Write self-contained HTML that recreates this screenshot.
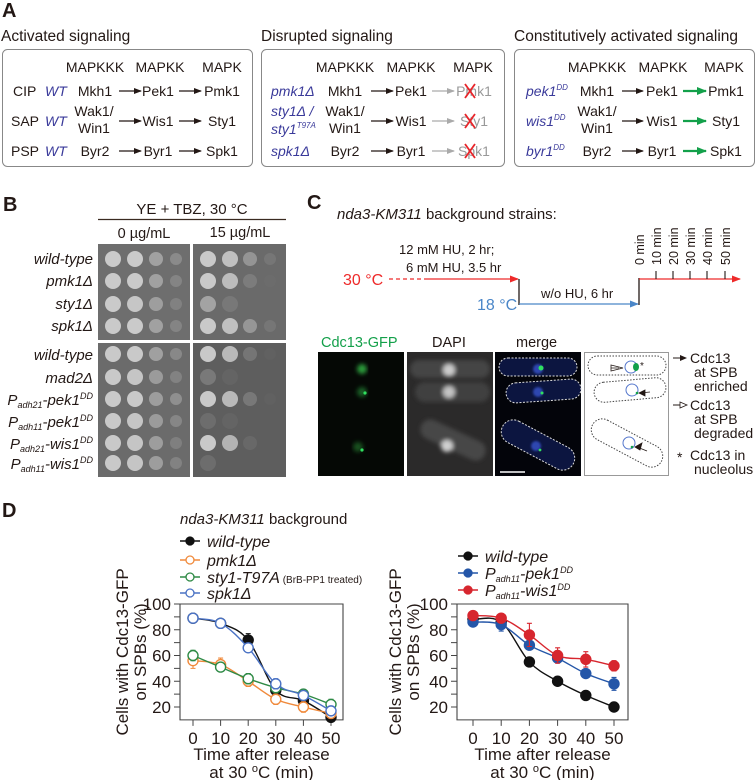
<!DOCTYPE html>
<html><head><meta charset="utf-8"><style>
html,body{margin:0;padding:0;background:#fff;}
svg{display:block;font-family:"Liberation Sans",Arial,sans-serif;}
.i{font-style:italic}
</style></head><body>
<svg id="fig" width="756" height="780" viewBox="0 0 756 780" xmlns="http://www.w3.org/2000/svg">
<defs>
<marker id="ab" markerWidth="8" markerHeight="6" refX="7" refY="3" orient="auto" markerUnits="userSpaceOnUse"><path d="M0,0 L8,3 L0,6 Z" fill="#231815"/></marker>
<marker id="ag" markerWidth="8" markerHeight="6" refX="7" refY="3" orient="auto" markerUnits="userSpaceOnUse"><path d="M0,0 L8,3 L0,6 Z" fill="#aaa"/></marker>
<marker id="agr" markerWidth="10" markerHeight="8" refX="9" refY="4" orient="auto" markerUnits="userSpaceOnUse"><path d="M0,0 L10,4 L0,8 Z" fill="#13a04a"/></marker>
<marker id="ar" markerWidth="9" markerHeight="7" refX="8" refY="3.5" orient="auto" markerUnits="userSpaceOnUse"><path d="M0,0 L9,3.5 L0,7 Z" fill="#ee2a2a"/></marker>
<marker id="abl" markerWidth="9" markerHeight="7" refX="8" refY="3.5" orient="auto" markerUnits="userSpaceOnUse"><path d="M0,0 L9,3.5 L0,7 Z" fill="#4a86c8"/></marker>
<filter id="blur"><feGaussianBlur stdDeviation="2"/></filter>
<filter id="blur1"><feGaussianBlur stdDeviation="1"/></filter>
</defs>

<!-- Panel A -->
<g font-size="14" fill="#231815">
<text x="2" y="17" font-size="20" font-weight="bold">A</text>
<text x="1" y="41" font-size="15.5">Activated signaling</text>
<text x="261" y="41" font-size="15.5">Disrupted signaling</text>
<text x="514" y="41" font-size="15.5">Constitutively activated signaling</text>
<rect x="2.5" y="49.5" width="250" height="117" rx="5" fill="none" stroke="#888"/>
<rect x="261.5" y="49.5" width="243" height="117" rx="5" fill="none" stroke="#888"/>
<rect x="514.5" y="49.5" width="240" height="117" rx="5" fill="none" stroke="#888"/>
<g text-anchor="middle">
<text x="95" y="72">MAPKKK</text><text x="160" y="72">MAPKK</text><text x="222" y="72">MAPK</text>
<text x="345" y="72">MAPKKK</text><text x="411" y="72">MAPKK</text><text x="473" y="72">MAPK</text>
<text x="597" y="72">MAPKKK</text><text x="663" y="72">MAPKK</text><text x="724" y="72">MAPK</text>
</g>
<!-- box1 -->
<g>
<text x="13" y="96">CIP</text><text x="45" y="96" class="i" fill="#3a3a9a">WT</text>
<text x="11" y="126">SAP</text><text x="45" y="126" class="i" fill="#3a3a9a">WT</text>
<text x="11" y="156">PSP</text><text x="45" y="156" class="i" fill="#3a3a9a">WT</text>
<g text-anchor="middle">
<text x="95" y="96">Mkh1</text><text x="158" y="96">Pek1</text><text x="222" y="96">Pmk1</text>
<text x="94" y="116">Wak1/</text><text x="94" y="133">Win1</text><text x="158" y="126">Wis1</text><text x="222" y="126">Sty1</text>
<text x="95" y="156">Byr2</text><text x="158" y="156">Byr1</text><text x="222" y="156">Spk1</text>
</g>
<g stroke="#231815" stroke-width="1.3" marker-end="url(#ab)">
<line x1="119" y1="91" x2="141" y2="91"/><line x1="179" y1="91" x2="201" y2="91"/>
<line x1="119" y1="121" x2="141" y2="121"/><line x1="179" y1="121" x2="201" y2="121"/>
<line x1="119" y1="151" x2="141" y2="151"/><line x1="179" y1="151" x2="201" y2="151"/>
</g></g>
<!-- box2 -->
<g>
<g class="i" fill="#3a3a9a"><text x="271" y="96">pmk1Δ</text><text x="271" y="116">sty1Δ /</text><text x="271" y="134">sty1<tspan font-size="8" dy="-6">T97A</tspan></text><text x="271" y="156">spk1Δ</text></g>
<g text-anchor="middle">
<text x="345" y="96">Mkh1</text><text x="411" y="96">Pek1</text><text x="474" y="96" fill="#999">Pmk1</text>
<text x="345" y="116">Wak1/</text><text x="345" y="133">Win1</text><text x="411" y="126">Wis1</text><text x="474" y="126" fill="#999">Sty1</text>
<text x="345" y="156">Byr2</text><text x="411" y="156">Byr1</text><text x="474" y="156" fill="#999">Spk1</text>
</g>
<g stroke="#231815" stroke-width="1.3" marker-end="url(#ab)">
<line x1="371" y1="91" x2="393" y2="91"/><line x1="371" y1="121" x2="393" y2="121"/><line x1="371" y1="151" x2="393" y2="151"/></g>
<g stroke="#aaa" stroke-width="1.3" marker-end="url(#ag)">
<line x1="432" y1="91" x2="454" y2="91"/><line x1="432" y1="121" x2="454" y2="121"/><line x1="432" y1="151" x2="454" y2="151"/></g>
<g stroke="#e8252a" stroke-width="1.8">
<path d="M465,84 L475,98 M475,84 L465,98"/><path d="M465,114 L475,128 M475,114 L465,128"/><path d="M465,144 L475,158 M475,144 L465,158"/></g>
</g>
<!-- box3 -->
<g>
<g class="i" fill="#3a3a9a"><text x="526" y="96">pek1<tspan font-size="8" dy="-6">DD</tspan></text><text x="526" y="126">wis1<tspan font-size="8" dy="-6">DD</tspan></text><text x="526" y="156">byr1<tspan font-size="8" dy="-6">DD</tspan></text></g>
<g text-anchor="middle">
<text x="597" y="96">Mkh1</text><text x="662" y="96">Pek1</text><text x="726" y="96">Pmk1</text>
<text x="597" y="116">Wak1/</text><text x="597" y="133">Win1</text><text x="662" y="126">Wis1</text><text x="726" y="126">Sty1</text>
<text x="597" y="156">Byr2</text><text x="662" y="156">Byr1</text><text x="726" y="156">Spk1</text>
</g>
<g stroke="#231815" stroke-width="1.3" marker-end="url(#ab)">
<line x1="622" y1="91" x2="643" y2="91"/><line x1="622" y1="121" x2="643" y2="121"/><line x1="622" y1="151" x2="643" y2="151"/></g>
<g stroke="#13a04a" stroke-width="2.2" marker-end="url(#agr)">
<line x1="683" y1="91" x2="706" y2="91"/><line x1="683" y1="121" x2="706" y2="121"/><line x1="683" y1="151" x2="706" y2="151"/></g>
</g>
</g>

<!-- Panel B -->
<g fill="#231815">
<text x="3" y="211" font-size="20" font-weight="bold">B</text>
<text x="192" y="214" font-size="15" text-anchor="middle">YE + TBZ, 30 °C</text>
<line x1="98" y1="219.5" x2="286" y2="219.5" stroke="#3a2a20" stroke-width="1.2"/>
<text x="144" y="238" font-size="14.5" text-anchor="middle">0 µg/mL</text>
<text x="240" y="237" font-size="14.5" text-anchor="middle">15 µg/mL</text>
<g font-size="15" class="i" text-anchor="end">
<text x="93" y="264">wild-type</text><text x="93" y="286">pmk1Δ</text><text x="93" y="309">sty1Δ</text><text x="93" y="331">spk1Δ</text>
<text x="93" y="360">wild-type</text><text x="93" y="383">mad2Δ</text>
<text x="93" y="405">P<tspan font-size="9" dy="3">adh21</tspan><tspan dy="-3">-pek1</tspan><tspan font-size="9" dy="-6">DD</tspan></text>
<text x="93" y="427">P<tspan font-size="9" dy="3">adh11</tspan><tspan dy="-3">-pek1</tspan><tspan font-size="9" dy="-6">DD</tspan></text>
<text x="93" y="449">P<tspan font-size="9" dy="3">adh21</tspan><tspan dy="-3">-wis1</tspan><tspan font-size="9" dy="-6">DD</tspan></text>
<text x="93" y="469">P<tspan font-size="9" dy="3">adh11</tspan><tspan dy="-3">-wis1</tspan><tspan font-size="9" dy="-6">DD</tspan></text>
</g>
<rect x="98" y="244" width="92" height="96" fill="#6e6e6e"/>
<rect x="193" y="244" width="93" height="96" fill="#6a6a6a"/>
<rect x="98" y="343" width="92" height="134" fill="#6b6b6b"/>
<rect x="193" y="343" width="93" height="134" fill="#5e5e5e"/>
<g id="spots"></g>
</g>

<!-- Panel C -->
<g fill="#231815">
<text x="307" y="209" font-size="20" font-weight="bold">C</text>
<text x="337" y="219" font-size="15"><tspan class="i">nda3-KM311</tspan> background strains:</text>
<text x="399" y="254" font-size="13">12 mM HU, 2 hr;</text>
<text x="406" y="272" font-size="13">6 mM HU, 3.5 hr</text>
<text x="343" y="285" font-size="16" fill="#ee2a2a">30 °C</text>
<line x1="389" y1="279" x2="427" y2="279" stroke="#ee2a2a" stroke-width="1.3" stroke-dasharray="4,3"/>
<line x1="427" y1="279" x2="518" y2="279" stroke="#ee2a2a" stroke-width="1.3" marker-end="url(#ar)"/>
<line x1="519" y1="279" x2="519" y2="305" stroke="#231815" stroke-width="1.3"/>
<text x="477" y="310" font-size="16" fill="#4a86c8">18 °C</text>
<line x1="519" y1="304" x2="638" y2="304" stroke="#4a86c8" stroke-width="1.3" marker-end="url(#abl)"/>
<text x="541" y="298" font-size="13">w/o HU, 6 hr</text>
<line x1="639" y1="305" x2="639" y2="278" stroke="#231815" stroke-width="1.3"/>
<line x1="639" y1="279" x2="740" y2="279" stroke="#ee2a2a" stroke-width="1.3" marker-end="url(#ar)"/>
<g stroke="#231815" stroke-width="1.1"><line x1="656" y1="279" x2="656" y2="271"/><line x1="673" y1="279" x2="673" y2="271"/><line x1="690" y1="279" x2="690" y2="271"/><line x1="707" y1="279" x2="707" y2="271"/><line x1="725" y1="279" x2="725" y2="271"/></g>
<g font-size="12.5">
<text transform="translate(644,265) rotate(-90)">0 min</text><text transform="translate(661,265) rotate(-90)">10 min</text><text transform="translate(678,265) rotate(-90)">20 min</text><text transform="translate(695,265) rotate(-90)">30 min</text><text transform="translate(712,265) rotate(-90)">40 min</text><text transform="translate(730,265) rotate(-90)">50 min</text>
</g>
<text x="321" y="347" font-size="14.5" fill="#13a04a">Cdc13-GFP</text>
<text x="432" y="347" font-size="14.5">DAPI</text>
<text x="516" y="347" font-size="14.5">merge</text>
<rect x="318" y="352" width="86" height="124" fill="#050805"/>
<g filter="url(#blur)" fill="#2a9a3a"><circle cx="362" cy="369" r="5"/><circle cx="362" cy="392" r="5" opacity=".6"/><circle cx="358" cy="447" r="5" opacity=".5"/></g>
<g fill="#30e060"><circle cx="365" cy="393" r="1.6"/><circle cx="362" cy="450" r="1.6"/></g>
<rect x="407" y="352" width="86" height="124" fill="#2b2a2a"/>
<g filter="url(#blur)"><rect x="410" y="360" width="80" height="18" rx="9" fill="#444"/><rect x="415" y="382" width="75" height="20" rx="10" fill="#414141"/><rect x="418" y="430" width="70" height="20" rx="10" fill="#464646" transform="rotate(25 453 440)"/>
<circle cx="449" cy="370" r="6" fill="#ccc"/><circle cx="449" cy="392" r="6" fill="#c4c4c4"/><circle cx="447" cy="446" r="6" fill="#d0d0d0"/></g>
<rect x="495" y="352" width="86" height="124" fill="#03040a"/>
<g fill="#0c1540" stroke="#ddd" stroke-width="1" stroke-dasharray="2,1.5">
<rect x="499" y="358" width="78" height="18" rx="9"/><rect x="506" y="381" width="75" height="20" rx="10" transform="rotate(-4 543 391)"/><rect x="498" y="433" width="80" height="24" rx="12" transform="rotate(28 538 445)"/></g>
<g filter="url(#blur1)" fill="#2d46b0"><circle cx="538" cy="369" r="5"/><circle cx="538" cy="392" r="5"/><circle cx="536" cy="446" r="5"/></g>
<g fill="#30e060"><circle cx="541" cy="368" r="2.5"/><circle cx="542" cy="393" r="1.5"/><circle cx="540" cy="450" r="1.4"/></g>
<line x1="500" y1="472" x2="525" y2="472" stroke="#fff" stroke-width="1.5"/>
<rect x="584.5" y="352.5" width="84" height="123" fill="#fff" stroke="#999"/>
<g fill="none" stroke="#444" stroke-dasharray="1.5,1.5" stroke-width="1">
<rect x="588" y="356" width="78" height="19" rx="9.5"/><rect x="594" y="380" width="72" height="20" rx="10" transform="rotate(-5 630 390)"/><rect x="588" y="432" width="78" height="22" rx="11" transform="rotate(28 627 443)"/></g>
<g fill="none" stroke="#5577cc" stroke-width="1"><circle cx="631" cy="367" r="6"/><circle cx="632" cy="390" r="6"/><circle cx="629" cy="443" r="6"/></g>
<g fill="#13a04a"><ellipse cx="636" cy="367" rx="3" ry="4"/><circle cx="637" cy="393" r="1.3"/><circle cx="632" cy="447" r="1.3"/></g>
<text x="640" y="369" font-size="10">*</text>
<path d="M619,368 L611,368 M611,365 L623,368 L611,371 Z" fill="#fff" stroke="#231815" stroke-width=".8"/>
<path d="M650,392 L640,393 M645,390 L639,393 L645,396 Z" fill="#231815" stroke="#231815" stroke-width=".8"/>
<path d="M647,451 L637,447 M642,443 L635,447 L640,450 Z" fill="#231815" stroke="#231815" stroke-width=".8"/>
<g font-size="14">
<path d="M673,358 L686,358" stroke="#231815" stroke-width="1"/><path d="M680,355 L687,358 L680,361 Z"/>
<text x="690" y="363">Cdc13</text><text x="694" y="377">at SPB</text><text x="694" y="391">enriched</text>
<path d="M673,405 L680,405" stroke="#231815" stroke-width="1"/><path d="M680,402 L687,405 L680,408 Z" fill="#fff" stroke="#231815" stroke-width=".8"/>
<text x="690" y="410">Cdc13</text><text x="694" y="424">at SPB</text><text x="694" y="438">degraded</text>
<text x="677" y="462">*</text><text x="690" y="460">Cdc13 in</text><text x="694" y="474">nucleolus</text>
</g>
</g>

<!-- Panel D -->
<g fill="#231815">
<text x="2" y="517" font-size="20" font-weight="bold">D</text>
<text x="180" y="524" font-size="15"><tspan class="i">nda3-KM311</tspan> background</text>
<g id="chartL"></g>
<g id="chartR"></g>
</g>
</svg>
<script>
// ---- Panel B spot intensities (0..1), 4 dilutions each ----
const spotsUpper0 = [[1,1,.9,.5],[1,1,.9,.4],[1,.95,.85,.35],[1,1,.9,.4]];
const spotsUpper15 = [[1,.9,.7,.2],[1,.85,.3,.05],[.6,.15,0,0],[1,.9,.75,.2]];
const spotsLower0 = [[1,1,.9,.5],[1,.95,.8,.4],[1,1,.85,.6],[1,.95,.8,.45],[1,.95,.85,.35],[1,.95,.85,.4]];
const spotsLower15 = [[1,.85,.35,.05],[.25,.05,0,0],[1,.85,.4,.05],[.15,.05,0,0],[1,.8,.15,0],[.15,0,0,0]];
const rowsUpperY = [259,281,304,326];
const rowsLowerY = [354,377,399,421,443,463];
(function(){
  const g=document.getElementById('spots');const NS='http://www.w3.org/2000/svg';
  const x0=[113,135,156,176], x15=[208,230,250,270];
  function draw(arr, rows, xs){
    arr.forEach((r,i)=>r.forEach((v,j)=>{
      if(v<=0) return;
      const c=document.createElementNS(NS,'circle');
      c.setAttribute('cx',xs[j]);c.setAttribute('cy',rows[i]);
      c.setAttribute('r', j<2?8:(j==2?7:6));
      c.setAttribute('fill', j<2?'#cfcfcf':'#c0c0c0');
      c.setAttribute('opacity', (j<2?v*0.95:v*0.7).toFixed(2));
      
      
      g.appendChild(c);
    }));
  }
  draw(spotsUpper0,rowsUpperY,x0);draw(spotsUpper15,rowsUpperY,x15);
  draw(spotsLower0,rowsLowerY,x0);draw(spotsLower15,rowsLowerY,x15);
})();

// ---- Panel D data ----
const timePoints = [0,10,20,30,40,50];
const yTicks = [20,40,60,80,100];
const yMinorTicks = [30,50,70,90];
const wtLeft = [89,85,72,33,25,12];
const wtLeftErr = [3,2,5,3,2,2];
const pmk1Vals = [56,53,40,26,20,15];
const pmk1Err = [6,5,4,4,4,3];
const sty1Vals = [60,51,42,35,30,22];
const sty1Err = [4,3,4,3,2,4];
const spk1Vals = [89,85,66,38,29,17];
const spk1Err = [2,2,3,4,3,2];
const wtRight = [88,86,55,40,29,20];
const wtRightErr = [3,2,2,1,1,2];
const pek1Vals = [86,84,68,58,46,38];
const pek1Err = [3,5,2,3,2,5];
const wis1Vals = [91,89,76,60,57,52];
const wis1Err = [2,1,9,6,6,4];

const NS='http://www.w3.org/2000/svg';
function el(tag,attrs,parent){const e=document.createElementNS(NS,tag);for(const k in attrs)e.setAttribute(k,attrs[k]);parent.appendChild(e);return e;}
function smooth(p){let d='M'+p[0][0]+','+p[0][1];for(let i=0;i<p.length-1;i++){const p0=p[i-1]||p[i],p1=p[i],p2=p[i+1],p3=p[i+2]||p2;const t=0.17;
 d+=' C'+(p1[0]+(p2[0]-p0[0])*t)+','+(p1[1]+(p2[1]-p0[1])*t)+' '+(p2[0]-(p3[0]-p1[0])*t)+','+(p2[1]-(p3[1]-p1[1])*t)+' '+p2[0]+','+p2[1];}return d;}

function chart(gid, cfg){
  const g=document.getElementById(gid);
  const xS=t=>cfg.x0+t*cfg.dx, yS=v=>cfg.yTop+(100-v)*cfg.dy;
  const L=cfg.axisL,R=cfg.axisR,B=yS(10),T=yS(100);
  const box=el('path',{d:`M${L},${T} L${R},${T} L${R},${B} L${L},${B} Z`,fill:'none',stroke:'#444','stroke-width':1.1},g);
  
  
  yTicks.forEach(v=>{el('line',{x1:L-6,x2:L,y1:yS(v),y2:yS(v),stroke:'#444'},g);
    const t=el('text',{x:L-9,y:yS(v)+6,'font-size':17,'text-anchor':'end'},g);t.textContent=v;
    
    });
  yMinorTicks.forEach(v=>el('line',{x1:L-6,x2:L,y1:yS(v),y2:yS(v),stroke:'#444'},g));
  timePoints.forEach(t=>{el('line',{x1:xS(t),x2:xS(t),y1:B,y2:B+6,stroke:'#444'},g);
    const tx=el('text',{x:xS(t),y:B+24,'font-size':17,'text-anchor':'middle'},g);tx.textContent=t;
    
    });
  const xt=el('text',{x:(L+R)/2+cfg.xtOff,y:B+40,'font-size':17,'text-anchor':'middle'},g);xt.textContent='Time after release';
  
  
  const xt2=el('text',{x:(L+R)/2+cfg.xtOff,y:B+58,'font-size':17,'text-anchor':'middle'},g);xt2.innerHTML='at 30 <tspan font-size="11" dy="-6">o</tspan><tspan dy="6">C (min)</tspan>';
  const yc=(T+B)/2-10;
  const yt=el('text',{transform:`translate(${cfg.ylx},${yc}) rotate(-90)`,'font-size':17,'text-anchor':'middle'},g);yt.textContent='Cells with Cdc13-GFP';
  
  
  const yt2=el('text',{transform:`translate(${cfg.ylx+18},${yc}) rotate(-90)`,'font-size':17,'text-anchor':'middle'},g);yt2.textContent='on SPBs (%)';
  cfg.series.forEach((s,si)=>{
    const pts=timePoints.map((t,i)=>[xS(t),yS(s.v[i])]);
    const line=el('path',{d:smooth(pts),fill:'none',stroke:s.c,'stroke-width':1.4},g);
    
    
    timePoints.forEach((t,i)=>{const x=xS(t),e=s.e[i],yv=s.v[i];
      el('path',{d:`M${x},${yS(yv+e)} L${x},${yS(yv-e)} M${x-2.5},${yS(yv+e)} L${x+2.5},${yS(yv+e)} M${x-2.5},${yS(yv-e)} L${x+2.5},${yS(yv-e)}`,stroke:s.c,'stroke-width':1.1},g);});
    timePoints.forEach((t,i)=>{const p=el('circle',{cx:xS(t),cy:yS(s.v[i]),r:5,fill:s.open?'#fff':s.c,stroke:s.c,'stroke-width':1.4},g);
      
      });
    const ly=cfg.legY[si];
    el('line',{x1:cfg.legX,x2:cfg.legX+20,y1:ly,y2:ly,stroke:s.c,'stroke-width':1.4},g);
    el('circle',{cx:cfg.legX+10,cy:ly,r:4,fill:s.open?'#fff':s.c,stroke:s.c,'stroke-width':1.3},g);
    const lt=el('text',{x:cfg.legX+27,y:ly+6,'font-size':16},g);lt.innerHTML=s.label;
    
    
  });
}
chart('chartL',{x0:193,dx:2.76,yTop:604,dy:1.2875,axisL:180,axisR:343,ylx:128,xtOff:0,legX:180,legY:[541,560,577,593],
 series:[
  {name:'wild-type',v:wtLeft,e:wtLeftErr,c:'#111',open:false,label:'<tspan font-style="italic">wild-type</tspan>'},
  {name:'pmk1',v:pmk1Vals,e:pmk1Err,c:'#f08a3c',open:true,label:'<tspan font-style="italic">pmk1Δ</tspan>'},
  {name:'sty1-t97a',v:sty1Vals,e:sty1Err,c:'#2e8a45',open:true,label:'<tspan font-style="italic">sty1-T97A</tspan><tspan font-size="10"> (BrB-PP1 treated)</tspan>'},
  {name:'spk1',v:spk1Vals,e:spk1Err,c:'#4a72c4',open:true,label:'<tspan font-style="italic">spk1Δ</tspan>'}
 ]});
chart('chartR',{x0:473,dx:2.82,yTop:604,dy:1.2875,axisL:457,axisR:628,ylx:401,xtOff:0,legX:458,legY:[556,573,590],
 series:[
  {name:'wild-type-r',v:wtRight,e:wtRightErr,c:'#111',open:false,label:'<tspan font-style="italic">wild-type</tspan>'},
  {name:'pek1dd',v:pek1Vals,e:pek1Err,c:'#2456a8',open:false,label:'<tspan font-style="italic">P<tspan font-size="9" dy="3">adh11</tspan><tspan dy="-3">-pek1</tspan><tspan font-size="9" dy="-6">DD</tspan></tspan>'},
  {name:'wis1dd',v:wis1Vals,e:wis1Err,c:'#d7262e',open:false,label:'<tspan font-style="italic">P<tspan font-size="9" dy="3">adh11</tspan><tspan dy="-3">-wis1</tspan><tspan font-size="9" dy="-6">DD</tspan></tspan>'}
 ]});
</script>
</body></html>
